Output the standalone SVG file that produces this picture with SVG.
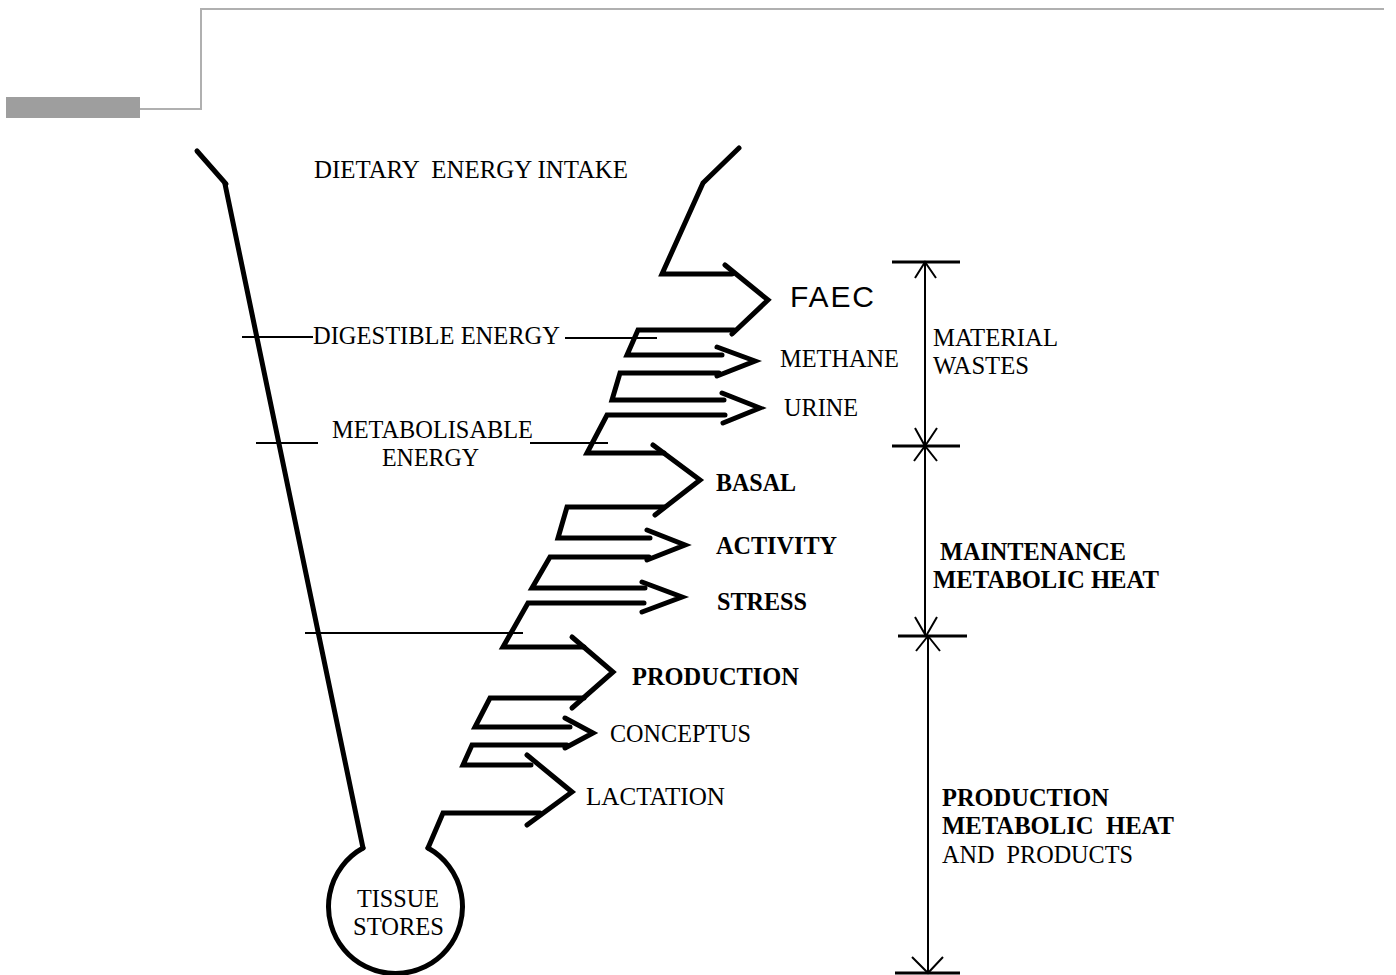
<svg xmlns="http://www.w3.org/2000/svg" width="1396" height="975" viewBox="0 0 1396 975">
<style>
.thick{fill:none;stroke:#000;stroke-width:5;stroke-linejoin:miter;stroke-linecap:round}
.thin{fill:none;stroke:#000;stroke-width:2}
.tick{fill:none;stroke:#000;stroke-width:3}
.t{font-family:"Liberation Serif","Times New Roman",serif;font-size:25px;fill:#000}
.b{font-weight:bold}
.s{font-family:"Liberation Sans",Arial,sans-serif;font-size:30px;fill:#000}
</style>
<rect width="1396" height="975" fill="#fff"/>
<g id="frame">
<rect x="6" y="97" width="134" height="21" fill="#9e9e9e"/>
<path d="M140,109 H201 V9 H1384" fill="none" stroke="#b0b0b0" stroke-width="2"/>
</g>
<g id="connectors">
<g id="funnel-left">
<path class="thick" d="M197,151 L226,184"/>
<path class="thick" d="M225,184 L363,848"/>
</g>
<g id="tissue-circle">
<path class="thick" d="M363,848 A67,67 0 1,0 428,848"/>
</g>
<g id="funnel-right">
<path class="thick" d="M739,148 L703,183 L662,274 L732,274"/>
<path class="thick" d="M725,265 L768,300 L732,334"/>
<path class="thick" d="M734,330 L638,330 L627,355 L722,355"/>
<path class="thick" d="M717,347 L755,361 L717,376"/>
<path class="thick" d="M719,373 L620,373 L612,400 L724,400"/>
<path class="thick" d="M722,393 L760,408 L723,423"/>
<path class="thick" d="M725,415 L607,415 L587,453 L664,453"/>
<path class="thick" d="M653,445 L700,480 L655,515"/>
<path class="thick" d="M664,507 L567,507 L558,538 L650,538"/>
<path class="thick" d="M647,530 L685,545 L647,560"/>
<path class="thick" d="M649,557 L550,557 L532,588 L645,588"/>
<path class="thick" d="M642,582 L682,597 L642,612"/>
<path class="thick" d="M644,603 L528,603 L503,647 L584,647"/>
<path class="thick" d="M572,637 L613,672 L572,708"/>
<path class="thick" d="M584,698 L490,698 L475,727 L570,727"/>
<path class="thick" d="M565,718 L593,733 L565,748"/>
<path class="thick" d="M567,745 L472,745 L463,765 L531,765"/>
<path class="thick" d="M527,755 L572,792 L527,825"/>
<path class="thick" d="M540,813 L443,813 L428,848"/>
</g>
<g id="level-lines">
<path class="thin" d="M242,337 H313"/>
<path class="thin" d="M565,338 H657"/>
<path class="thin" d="M256,443 H318"/>
<path class="thin" d="M530,443 H608"/>
<path class="thin" d="M305,633 H523"/>
</g>
<g id="dimensions">
<path class="thin" d="M925,262 V636"/>
<path class="thin" d="M928,636 V973"/>
<path class="tick" d="M892,262 H960 M892,446 H960 M898,636 H967 M895,973 H960"/>
<path class="thin" d="M915,278 L925,262 L936,278"/>
<path class="thin" d="M915,428 L925,446 L937,428"/>
<path class="thin" d="M914,461 L925,446 L937,461"/>
<path class="thin" d="M915,617 L926,636 L937,617"/>
<path class="thin" d="M916,651 L928,636 L940,651"/>
<path class="thin" d="M912,957 L928,973 L943,957"/>
</g>
</g>
<g id="node-intake"><text class="t" x="314" y="178" xml:space="preserve" textLength="314" lengthAdjust="spacingAndGlyphs">DIETARY  ENERGY INTAKE</text></g>
<g id="node-faec"><text class="s" x="790" y="307" textLength="84" lengthAdjust="spacing">FAEC</text></g>
<g id="node-de"><text class="t" x="313" y="344" textLength="247" lengthAdjust="spacingAndGlyphs">DIGESTIBLE ENERGY</text></g>
<g id="node-methane"><text class="t" x="780" y="367" textLength="119" lengthAdjust="spacingAndGlyphs">METHANE</text></g>
<g id="node-urine"><text class="t" x="784" y="416" textLength="74" lengthAdjust="spacingAndGlyphs">URINE</text></g>
<g id="node-me"><text class="t" x="332" y="438" textLength="201" lengthAdjust="spacingAndGlyphs">METABOLISABLE</text><text class="t" x="382" y="466" textLength="97" lengthAdjust="spacingAndGlyphs">ENERGY</text></g>
<g id="node-basal"><text class="t b" x="716" y="491" textLength="80" lengthAdjust="spacingAndGlyphs">BASAL</text></g>
<g id="node-activity"><text class="t b" x="716" y="554" textLength="121" lengthAdjust="spacingAndGlyphs">ACTIVITY</text></g>
<g id="node-stress"><text class="t b" x="717" y="610" textLength="90" lengthAdjust="spacingAndGlyphs">STRESS</text></g>
<g id="node-production"><text class="t b" x="632" y="685" textLength="167" lengthAdjust="spacingAndGlyphs">PRODUCTION</text></g>
<g id="node-conceptus"><text class="t" x="610" y="742" textLength="141" lengthAdjust="spacingAndGlyphs">CONCEPTUS</text></g>
<g id="node-lactation"><text class="t" x="586" y="805" textLength="139" lengthAdjust="spacingAndGlyphs">LACTATION</text></g>
<g id="node-tissue"><text class="t" x="357" y="907" textLength="82" lengthAdjust="spacingAndGlyphs">TISSUE</text><text class="t" x="353" y="935" textLength="91" lengthAdjust="spacingAndGlyphs">STORES</text></g>
<g id="node-material"><text class="t" x="933" y="346" textLength="125" lengthAdjust="spacingAndGlyphs">MATERIAL</text><text class="t" x="933" y="374" textLength="96" lengthAdjust="spacingAndGlyphs">WASTES</text></g>
<g id="node-maintenance"><text class="t b" x="940" y="560" textLength="186" lengthAdjust="spacingAndGlyphs">MAINTENANCE</text><text class="t b" x="933" y="588" textLength="226" lengthAdjust="spacingAndGlyphs">METABOLIC HEAT</text></g>
<g id="node-prod-heat"><text class="t b" x="942" y="806" textLength="167" lengthAdjust="spacingAndGlyphs">PRODUCTION</text><text class="t b" x="942" y="834" xml:space="preserve" textLength="232" lengthAdjust="spacingAndGlyphs">METABOLIC  HEAT</text><text class="t" x="942" y="863" xml:space="preserve" textLength="191" lengthAdjust="spacingAndGlyphs">AND  PRODUCTS</text></g>
</svg>
